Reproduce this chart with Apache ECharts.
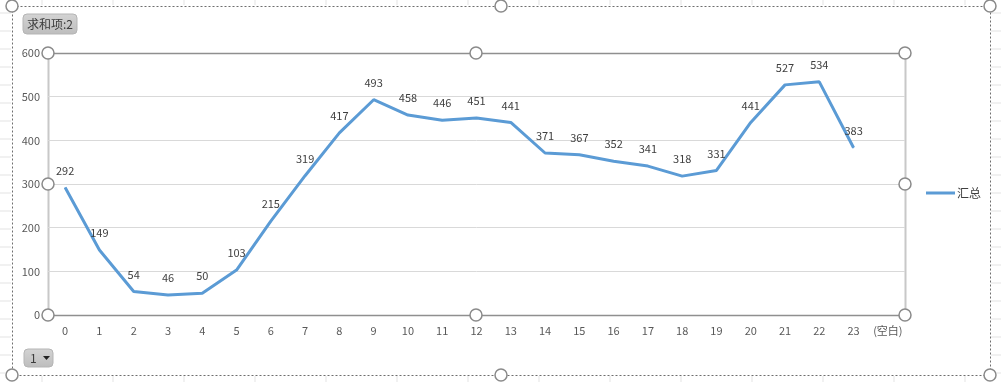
<!DOCTYPE html>
<html>
<head>
<meta charset="utf-8">
<script src="https://cdn.jsdelivr.net/npm/echarts@6/dist/echarts.min.js"></script>
<style>
html,body{margin:0;padding:0;background:#fff;}
#c{width:1001px;height:382px;}
</style>
</head>
<body>
<div id="c"></div>
<script>
var categories = ['0','1','2','3','4','5','6','7','8','9','10','11','12','13','14','15','16','17','18','19','20','21','22','23','(空白)'];
var values = [292,149,54,46,50,103,215,319,417,493,458,446,451,441,371,367,352,341,318,331,441,527,534,383,null];
var seriesName = '汇总';
var yTicks = {min:0, max:600, interval:100};

var FONT = '"Noto Sans CJK SC","Microsoft YaHei",sans-serif';
var chart = echarts.init(document.getElementById('c'));

var L = 48, R = 905, T = 53, B = 315;
var g = [];
// spreadsheet cell lines outside the chart
for (var y = 13; y < 382; y += 18) {
  g.push({type:'line', shape:{x1:0,y1:y,x2:11,y2:y}, style:{stroke:'#e3e3e3',lineWidth:1}, silent:true});
  g.push({type:'line', shape:{x1:991,y1:y,x2:1001,y2:y}, style:{stroke:'#e3e3e3',lineWidth:1}, silent:true});
}
for (var x = 42; x < 1001; x += 71) {
  g.push({type:'line', shape:{x1:x,y1:0,x2:x,y2:5}, style:{stroke:'#e3e3e3',lineWidth:1}, silent:true});
  g.push({type:'line', shape:{x1:x,y1:376,x2:x,y2:382}, style:{stroke:'#e3e3e3',lineWidth:1}, silent:true});
}
// chart outer dotted border
g.push({type:'rect', shape:{x:12.5,y:6.5,width:978,height:369}, style:{fill:null,stroke:'#6e6e6e',lineWidth:1,lineDash:[2,2]}, silent:true});
// plot area border
g.push({type:'line', shape:{x1:L+0.5,y1:T,x2:L+0.5,y2:B}, style:{stroke:'#c8c8c8',lineWidth:2}, silent:true});
g.push({type:'line', shape:{x1:R+0.5,y1:T,x2:R+0.5,y2:B}, style:{stroke:'#c8c8c8',lineWidth:2}, silent:true});
g.push({type:'line', shape:{x1:L,y1:T+0.5,x2:R,y2:T+0.5}, style:{stroke:'#8f8f8f',lineWidth:1.5}, silent:true, z:5});
g.push({type:'line', shape:{x1:L,y1:B+0.5,x2:R,y2:B+0.5}, style:{stroke:'#8f8f8f',lineWidth:1.5}, silent:true, z:5});
// handles
function handle(cx, cy){
  g.push({type:'circle', shape:{cx:cx,cy:cy,r:6}, style:{fill:'#fff',stroke:'#8a8a8a',lineWidth:1.5}, z:10, silent:true});
}
[[L,T],[476,T],[R,T],[L,184],[R,184],[L,B],[476,B],[R,B]].forEach(function(p){handle(p[0],p[1]);});
[[12,6],[501,6],[990,6],[12,375],[501,375],[990,375]].forEach(function(p){handle(p[0],p[1]);});
// field buttons
g.push({type:'rect', shape:{x:23,y:14,width:54,height:20,r:4}, style:{fill:new echarts.graphic.LinearGradient(0,0,0,1,[{offset:0,color:'#d4d4d4'},{offset:1,color:'#bdbdbd'}]),stroke:'#b5b5b5',lineWidth:1}, z:10, silent:true});
g.push({type:'text', x:50, y:24, style:{text:'求和项:2', fill:'#3c3c3c', font:'12px '+FONT, align:'center', verticalAlign:'middle'}, z:11, silent:true});
g.push({type:'rect', shape:{x:24,y:349,width:29,height:18,r:4}, style:{fill:new echarts.graphic.LinearGradient(0,0,0,1,[{offset:0,color:'#d4d4d4'},{offset:1,color:'#bdbdbd'}]),stroke:'#b5b5b5',lineWidth:1}, z:10, silent:true});
g.push({type:'text', x:30, y:358, style:{text:'1', fill:'#3c3c3c', font:'12px '+FONT, verticalAlign:'middle'}, z:11, silent:true});
g.push({type:'polygon', shape:{points:[[43,356],[50,356],[46.5,360]]}, style:{fill:'#222'}, z:11, silent:true});

chart.setOption({
  animation:false,
  backgroundColor:'#fff',
  textStyle:{fontFamily:FONT},
  grid:{left:L, right:1001-R, top:T, bottom:382-B},
  legend:{
    left:921, top:182, orient:'vertical',
    icon:'rect', itemWidth:29, itemHeight:3, itemGap:4,
    textStyle:{color:'#404040', fontSize:12, fontFamily:FONT, padding:[0,0,0,-3]},
    data:[seriesName]
  },
  xAxis:{
    type:'category', data:categories, boundaryGap:true,
    axisLine:{show:false}, axisTick:{show:false},
    axisLabel:{color:'#595959', fontSize:11, margin:10, interval:0, fontFamily:FONT}
  },
  yAxis:{
    type:'value', min:yTicks.min, max:yTicks.max, interval:yTicks.interval,
    axisLine:{show:false}, axisTick:{show:false},
    axisLabel:{color:'#595959', fontSize:11, margin:8, fontFamily:FONT},
    splitLine:{lineStyle:{color:'#d9d9d9', width:1}}
  },
  series:[{
    name:seriesName, type:'line', data:values,
    symbol:'circle', symbolSize:1, showSymbol:true,
    lineStyle:{color:'#5b9bd5', width:3},
    itemStyle:{color:'#5b9bd5'},
    label:{show:true, position:'top', distance:11, color:'#404040', fontSize:11, fontFamily:FONT},
    z:3
  }],
  graphic:g
});
</script>
</body>
</html>
